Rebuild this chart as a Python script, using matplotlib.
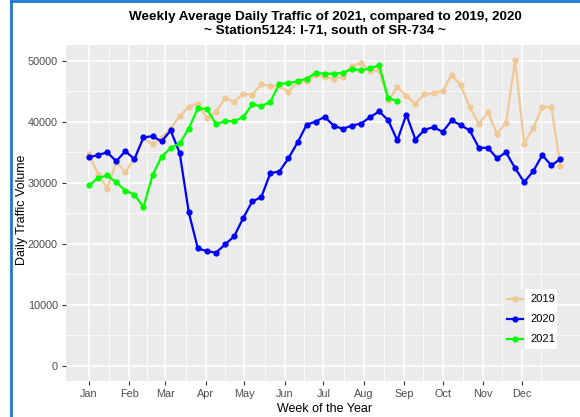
import numpy as np
import matplotlib
matplotlib.use("Agg")
import matplotlib.pyplot as plt
from matplotlib.lines import Line2D
from matplotlib.patches import Rectangle

plt.rcParams['font.family'] = ['Liberation Sans', 'DejaVu Sans']

# weekly average daily traffic, one value per week starting Jan 1
traffic_2019 = [34700, 31400, 29000, 33400, 31750, 34000, 37300, 36340, 37320, 38900,
                40950, 42450, 43000, 40650, 41640, 43850, 43330, 44600, 44450, 46150,
                45870, 45870, 44920, 46530, 46650, 47700, 47300, 47100, 47430, 49200,
                49610, 48300, 48500, 43500, 45650, 44280, 42930, 44550, 44690, 45040,
                47680, 45980, 42380, 39640, 41590, 38050, 39860, 50130, 36340, 39000,
                42420, 42420, 32740]
traffic_2020 = [34150, 34590, 34970, 33550, 35190, 33880, 37430, 37650, 36780, 38580,
                34860, 25140, 19230, 18800, 18520, 19890, 21200, 24210, 26940, 27650,
                31590, 31850, 34040, 36610, 39510, 40050, 40820, 39340, 38850, 39390,
                39720, 40770, 41700, 40270, 36940, 41200, 37100, 38690, 39130, 38360,
                40220, 39450, 38580, 35740, 35740, 34040, 34970, 32400, 30110, 31910,
                34540, 32840, 33930]
traffic_2021 = [29560, 30800, 31200, 30080, 28730, 28050, 26020, 31240, 34310, 35690,
                36470, 38900, 42240, 42120, 39620, 40110, 40110, 40760, 42850, 42550,
                43300, 46270, 46320, 46680, 47080, 48030, 47900, 47900, 48040, 48700,
                48440, 48750, 49260, 43850, 43420]

years = ["2019", "2020", "2021"]
colors = ["#F0C896", "#0000FF", "#00FF00"]
month_labels = ["Jan", "Feb", "Mar", "Apr", "May", "Jun", "Jul", "Aug", "Sep", "Oct", "Nov", "Dec"]
month_start_day = [0, 31, 59, 90, 120, 151, 181, 212, 243, 273, 304, 334]
y_ticks = [0, 10000, 20000, 30000, 40000, 50000]

W, H = 580, 417
fig = plt.figure(figsize=(W / 100, H / 100), dpi=100)
fig.patch.set_facecolor("white")

def fx(px):
    return px / W

def fy(py):
    return 1 - py / H

ax = fig.add_axes([fx(65.5), fy(381), fx(584) - fx(65.5), fy(45) - fy(381)])
ax.set_facecolor("#EBEBEB")
for s in ax.spines.values():
    s.set_visible(False)

# grid like ggplot
ax.set_xticks(month_start_day)
ax.set_xticklabels(month_labels)
minor_x = [(a + b) / 2 for a, b in zip(month_start_day[:-1], month_start_day[1:])] + [349, 365 + 15]
ax.set_xticks(minor_x, minor=True)
ax.set_yticks(y_ticks)
ax.set_yticklabels([str(v) for v in y_ticks])
ax.set_yticks([5000, 15000, 25000, 35000, 45000], minor=True)
ax.grid(which="major", color="white", linewidth=1.1)
ax.grid(which="minor", color="white", linewidth=0.55)
ax.set_axisbelow(True)
ax.tick_params(which="major", length=3, width=0.8, color="#333333", labelsize=7.8,
               labelcolor="#4D4D4D", pad=2.5)
ax.tick_params(which="minor", length=0)

for series, col in zip([traffic_2019, traffic_2020, traffic_2021], colors):
    x = np.arange(len(series)) * 7
    ax.plot(x, series, color=col, linewidth=1.6, marker="o", markersize=4.5,
            markeredgewidth=0, zorder=3)

ax.set_xlim(-18.2, 382.2)
ax.set_ylim(-2510, 52600)

ax.set_xlabel("Week of the Year", fontsize=9)
ax.xaxis.set_label_coords((fx(325) - fx(65.5)) / (fx(584) - fx(65.5)), -0.064)
fig.text(fx(22), fy(210), "Daily Traffic Volume", rotation=90, fontsize=9,
         ha="center", va="center")

fig.text(fx(325), fy(17), "Weekly Average Daily Traffic of 2021, compared to 2019, 2020",
         fontsize=9.7, fontweight="bold", ha="center", va="center")
fig.text(fx(325), fy(31), "~ Station5124: I-71, south of SR-734 ~",
         fontsize=9.7, fontweight="bold", ha="center", va="center")

# manual ggplot-style legend
fig.add_artist(Rectangle((fx(505), fy(349)), fx(557) - fx(505), fy(289) - fy(349),
                         transform=fig.transFigure, facecolor="white", edgecolor="none", zorder=5))
fig.add_artist(Rectangle((fx(505), fy(349)), fx(525) - fx(505), fy(289) - fy(349),
                         transform=fig.transFigure, facecolor="#EBEBEB", edgecolor="none", zorder=5))
for i, (lab, col) in enumerate(zip(years, colors)):
    yy = fy(299 + 20 * i)
    fig.add_artist(Line2D([fx(507), fx(523)], [yy, yy], color=col, linewidth=1.6,
                          transform=fig.transFigure, zorder=6))
    fig.add_artist(Line2D([fx(515)], [yy], color=col, marker="o", markersize=4.5,
                          markeredgewidth=0, transform=fig.transFigure, zorder=6))
    fig.text(fx(530), yy, lab, fontsize=8, ha="left", va="center", zorder=7)

# blue frame from the screenshot
fig.add_artist(Line2D([fx(11), fx(11)], [0, fy(1)], color="#1E78D2", linewidth=2,
                      transform=fig.transFigure))
fig.add_artist(Line2D([fx(11), 1], [fy(1), fy(1)], color="#1E78D2", linewidth=2,
                      transform=fig.transFigure))

fig.savefig("out.png", dpi=100)
